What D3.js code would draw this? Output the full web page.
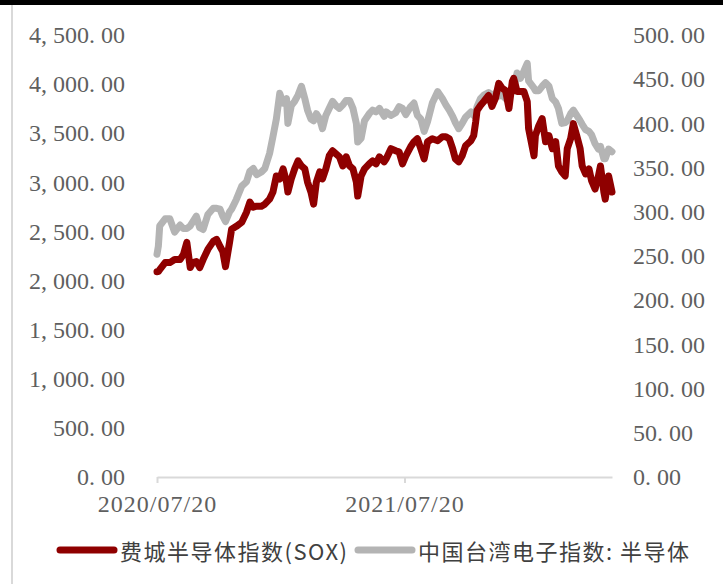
<!DOCTYPE html>
<html>
<head>
<meta charset="utf-8">
<style>
  body { margin: 0; background: #fff; }
  svg { display: block; }
  .tick text { font-family: "Liberation Serif", serif; font-size: 24px; fill: #5f5f5f; }
  .legend text { font-family: "Noto Sans CJK SC", sans-serif; font-size: 22px; fill: #404040; letter-spacing: 1.5px; }
</style>
<script src="https://d3js.org/d3.v7.min.js"></script>
</head>
<body>
<svg width="723" height="584"></svg>
<script>

var dates = [
  "2020-07-20","2020-07-22","2020-07-24","2020-08-01","2020-08-08","2020-08-15","2020-08-23","2020-08-28",
  "2020-09-02","2020-09-07","2020-09-11","2020-09-16","2020-09-21","2020-09-26","2020-10-03","2020-10-11",
  "2020-10-16","2020-10-21","2020-10-25","2020-10-29","2020-11-04","2020-11-07","2020-11-14","2020-11-22",
  "2020-11-29","2020-12-04","2020-12-09","2020-12-14","2020-12-21","2020-12-26",
  "2021-01-02","2021-01-07","2021-01-12","2021-01-17","2021-01-22","2021-01-27","2021-01-29","2021-02-03",
  "2021-02-08","2021-02-13","2021-02-18","2021-02-23","2021-02-27","2021-03-04","2021-03-08","2021-03-12",
  "2021-03-17","2021-03-21","2021-03-26","2021-03-31","2021-04-05","2021-04-10","2021-04-15","2021-04-20",
  "2021-04-25","2021-04-30","2021-05-05","2021-05-10","2021-05-12","2021-05-17","2021-05-22","2021-05-29",
  "2021-06-03","2021-06-08","2021-06-13","2021-06-20","2021-06-23","2021-06-30","2021-07-07","2021-07-12",
  "2021-07-17","2021-07-22","2021-07-29","2021-08-03","2021-08-08","2021-08-13","2021-08-18","2021-08-23",
  "2021-08-30","2021-09-07","2021-09-14","2021-09-19","2021-09-24","2021-09-29","2021-10-03","2021-10-08",
  "2021-10-13","2021-10-18","2021-10-26","2021-10-30","2021-11-02","2021-11-04","2021-11-09","2021-11-14",
  "2021-11-21","2021-11-26","2021-12-01","2021-12-06","2021-12-11","2021-12-16","2021-12-21","2021-12-26",
  "2021-12-28",
  "2022-01-02","2022-01-07","2022-01-12","2022-01-17","2022-01-19","2022-01-22","2022-01-27","2022-01-29",
  "2022-02-03","2022-02-08","2022-02-13","2022-02-18","2022-02-23","2022-02-28","2022-03-04","2022-03-09",
  "2022-03-14","2022-03-17","2022-03-22","2022-03-26","2022-03-31","2022-04-05","2022-04-08","2022-04-13",
  "2022-04-18","2022-04-22","2022-04-27","2022-05-02","2022-05-05","2022-05-10","2022-05-12","2022-05-17",
  "2022-05-22"
];

// 费城半导体指数 (左轴)
var soxValues = [
  2090, 2091, 2112, 2183, 2183, 2214, 2214, 2265, 2388, 2132, 2183, 2194, 2132, 2214, 2317, 2399,
  2419, 2347, 2296, 2142, 2388, 2522, 2552, 2593, 2696, 2798, 2747, 2757, 2757, 2778,
  2829, 2901, 3065, 3034, 3137, 3003, 2901, 3034, 3137, 3219, 3167, 3137, 3003, 2901, 2778, 3003,
  3106, 3034, 3137, 3270, 3321, 3290, 3260, 3167, 3260, 3167, 3137, 3003, 2860, 3065, 3137, 3188,
  3219, 3188, 3260, 3208, 3239, 3342, 3321, 3311, 3188, 3270, 3362, 3413, 3444, 3342, 3239, 3413,
  3444, 3424, 3465, 3465, 3444, 3342, 3239, 3208, 3270, 3372, 3424, 3475, 3618, 3731, 3782, 3823,
  3885, 3772, 3854, 4008, 3957, 3936, 3752, 4028, 4059,
  3926, 3926, 3926, 3823, 3547, 3444, 3270, 3475, 3577, 3649, 3413, 3475, 3342, 3413, 3167, 3106,
  3065, 3342, 3444, 3598, 3475, 3342, 3167, 3085, 3137, 3014, 2932, 3065, 3167, 2901, 2829, 3065,
  2901
];

// 中国台湾电子指数:半导体 (右轴)
var twValues = [
  252, 261, 284, 292, 292, 277, 285, 281, 281, 284, 289, 295, 282, 280, 297, 304,
  304, 303, 295, 289, 300, 303, 314, 329, 334, 346, 349, 342, 345, 349,
  366, 385, 405, 434, 423, 428, 400, 420, 425, 432, 442, 428, 415, 405, 403, 411,
  405, 394, 409, 417, 425, 420, 417, 421, 426, 426, 417, 400, 379, 383, 403, 411,
  415, 413, 417, 408, 413, 409, 412, 419, 417, 410, 419, 423, 409, 405, 391, 402,
  423, 436, 428, 421, 415, 408, 401, 394, 400, 407, 413, 409, 412, 419, 428, 432,
  435, 432, 434, 431, 432, 428, 431, 436, 437,
  457, 451, 459, 468, 448, 445, 440, 437, 437, 442, 446, 442, 428, 424, 417, 400,
  401, 403, 411, 415, 409, 403, 399, 393, 391, 387, 377, 371, 374, 360, 360, 371,
  368
];

var leftTicks = [0, 500, 1000, 1500, 2000, 2500, 3000, 3500, 4000, 4500];
var rightTicks = [0, 50, 100, 150, 200, 250, 300, 350, 400, 450, 500];
var xTicks = ["2020-07-20", "2021-07-20"];
var seriesNames = ["费城半导体指数(SOX)", "中国台湾电子指数: 半导体"];
var colors = ["#8f0000", "#b4b4b4"];

(function() {
  var parse = d3.timeParse("%Y-%m-%d");
  var data = dates.map(function(d, i) {
    return { date: parse(d), sox: soxValues[i], tw: twValues[i] };
  });

  var svg = d3.select("svg");
  var mLeft = 157, mRight = 612, mTop = 35, mBottom = 477;

  // 顶部黑条和左侧边框
  svg.append("rect").attr("x", 0).attr("y", 0).attr("width", 723).attr("height", 5).attr("fill", "#000");
  svg.append("line").attr("x1", 12).attr("x2", 12).attr("y1", 5).attr("y2", 584)
    .attr("stroke", "#d9d9d9").attr("stroke-width", 2);

  var x = d3.scaleTime().domain(d3.extent(data, function(d) { return d.date; })).range([mLeft, mRight]);
  var yL = d3.scaleLinear().domain([0, 4500]).range([mBottom, mTop]);
  var yR = d3.scaleLinear().domain([0, 500]).range([mBottom, mTop]);

  var numFmt = d3.format(",.2f");
  function spaced(v) { return numFmt(v).replace(/,/g, ", ").replace(/\./g, ". "); }

  var gL = svg.append("g").attr("transform", "translate(" + mLeft + ",0)")
    .call(d3.axisLeft(yL).tickValues(leftTicks).tickSize(0).tickPadding(32).tickFormat(spaced));
  gL.select(".domain").remove();

  var gR = svg.append("g").attr("transform", "translate(" + mRight + ",0)")
    .call(d3.axisRight(yR).tickValues(rightTicks).tickSize(0).tickPadding(21).tickFormat(spaced));
  gR.select(".domain").remove();

  var gX = svg.append("g").attr("transform", "translate(0," + mBottom + ")")
    .call(d3.axisBottom(x).tickValues(xTicks.map(parse)).tickSizeInner(6).tickSizeOuter(0)
      .tickPadding(12).tickFormat(d3.timeFormat("%Y/%m/%d")));
  gX.select(".domain").attr("stroke", "#d9d9d9").attr("stroke-width", 2);
  gX.selectAll(".tick line").attr("stroke", "#d9d9d9").attr("stroke-width", 2);
  gX.selectAll(".tick text").style("letter-spacing", "1px");

  var lineTw = d3.line().x(function(d) { return x(d.date); }).y(function(d) { return yR(d.tw); });
  var lineSox = d3.line().x(function(d) { return x(d.date); }).y(function(d) { return yL(d.sox); });

  svg.append("path").datum(data).attr("d", lineTw).attr("fill", "none")
    .attr("stroke", colors[1]).attr("stroke-width", 7).attr("stroke-linejoin", "round").attr("stroke-linecap", "round");
  svg.append("path").datum(data).attr("d", lineSox).attr("fill", "none")
    .attr("stroke", colors[0]).attr("stroke-width", 7).attr("stroke-linejoin", "round").attr("stroke-linecap", "round");

  // 图例
  var legend = svg.append("g").attr("class", "legend");
  var legendX = [60, 358];
  seriesNames.forEach(function(name, i) {
    legend.append("line").attr("x1", legendX[i]).attr("x2", legendX[i] + 54).attr("y1", 550).attr("y2", 550)
      .attr("stroke", colors[i]).attr("stroke-width", 7).attr("stroke-linecap", "round");
    legend.append("text").attr("x", legendX[i] + 60).attr("y", 550).attr("dominant-baseline", "central").text(name);
  });
})();

</script>
</body>
</html>
